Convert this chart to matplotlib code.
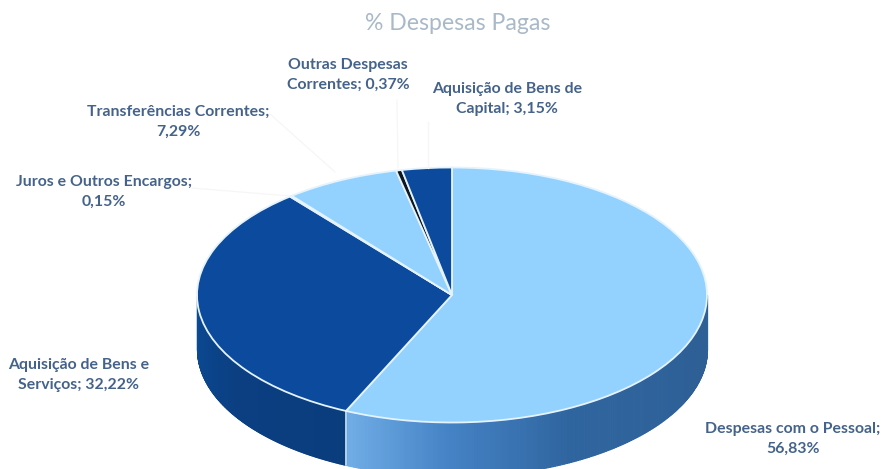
import numpy as np
import matplotlib
matplotlib.use('Agg')
import matplotlib.pyplot as plt
from matplotlib.colors import LinearSegmentedColormap

plt.rcParams['font.family'] = ['Lato', 'DejaVu Sans']

categorias = ['Despesas com o Pessoal', 'Aquisição de Bens e Serviços', 'Juros e Outros Encargos',
              'Transferências Correntes', 'Outras Despesas Correntes', 'Aquisição de Bens de Capital']
valores = [56.83, 32.22, 0.15, 7.29, 0.37, 3.15]
cores = ['#93D2FF', '#0B4A9C', '#0B4A9C', '#93D2FF', '#10161E', '#0B4A9C']
rotulos = ['Despesas com o Pessoal;\n56,83%', 'Aquisição de Bens e\nServiços; 32,22%',
           'Juros e Outros Encargos;\n0,15%', 'Transferências Correntes;\n7,29%',
           'Outras Despesas\nCorrentes; 0,37%', 'Aquisição de Bens de\nCapital; 3,15%']
# centro do rotulo em pixels
rotulos_x = [793, 79, 104, 178, 348, 507]
rotulos_y = [439, 375, 192, 122, 75, 99]

cx, cy, rx, ry = 452, 295, 255, 127.5
prof = 54 / ry
W, H = 882, 469

fig = plt.figure(figsize=(8.82, 4.69), dpi=100)
ax = fig.add_axes([0, 0, 1, 1])

# parede lateral do "3D"
cmap_pessoal = LinearSegmentedColormap.from_list('p', [(0, '#2F6398'), (0.1, '#2E5F95'), (0.55, '#2F659F'),
                                                       (0.8, '#4583C6'), (1, '#70ADE6')])
cmap_serv = LinearSegmentedColormap.from_list('s', ['#0A3D7C', '#0B3F82', '#0B4A94'])
fracs = np.cumsum([0] + valores) / sum(valores)
ang = 90 - fracs * 360
for i, cmap in [(0, cmap_pessoal), (1, cmap_serv)]:
    a1, a2 = ang[i], max(ang[i + 1], -180 if i == 1 else -400)
    a1 = min(a1, 0)
    tt = np.linspace(a1, a2, 200)
    for k in range(len(tt) - 1):
        t = np.radians(tt[k:k + 2])
        c = cmap(k / 198)
        ax.fill_between(np.cos(t), np.sin(t), np.sin(t) - prof, color=c, lw=0.8, zorder=1)
# linha clara entre as paredes
t = np.radians(ang[1])
ax.plot([np.cos(t)] * 2, [np.sin(t), np.sin(t) - prof], color='#D8ECFB', lw=1.2, zorder=2)

wedges, _ = ax.pie(valores, colors=cores, startangle=90, counterclock=False, radius=1,
                   wedgeprops={'edgecolor': '#E4F3FD', 'linewidth': 1.3, 'zorder': 3})
ax.set_aspect('auto')
ax.set_xlim(-cx / rx, (W - cx) / rx)
ax.set_ylim(-(H - cy) / ry, cy / ry)
ax.axis('off')

# linhas de chamada quase invisiveis
guias_x = [[192, 290], [270, 335], [397, 398], [428, 428]]
guias_y = [[188, 196], [114, 172], [100, 168], [122, 168]]
for gx, gy in zip(guias_x, guias_y):
    fig.add_artist(plt.Line2D(np.array(gx) / W, 1 - np.array(gy) / H, color='#F6F6F6', lw=0.9))

for txt, x, y in zip(rotulos, rotulos_x, rotulos_y):
    fig.text(x / W, 1 - y / H, txt, ha='center', va='center', fontsize=11.4, fontweight='bold',
             color='#45638A', linespacing=1.5)

fig.text(458 / W, 1 - 24 / H, '% Despesas Pagas', ha='center', va='center', fontsize=16.6,
         color='#A9B9C8')

fig.savefig('out.png', dpi=100)
